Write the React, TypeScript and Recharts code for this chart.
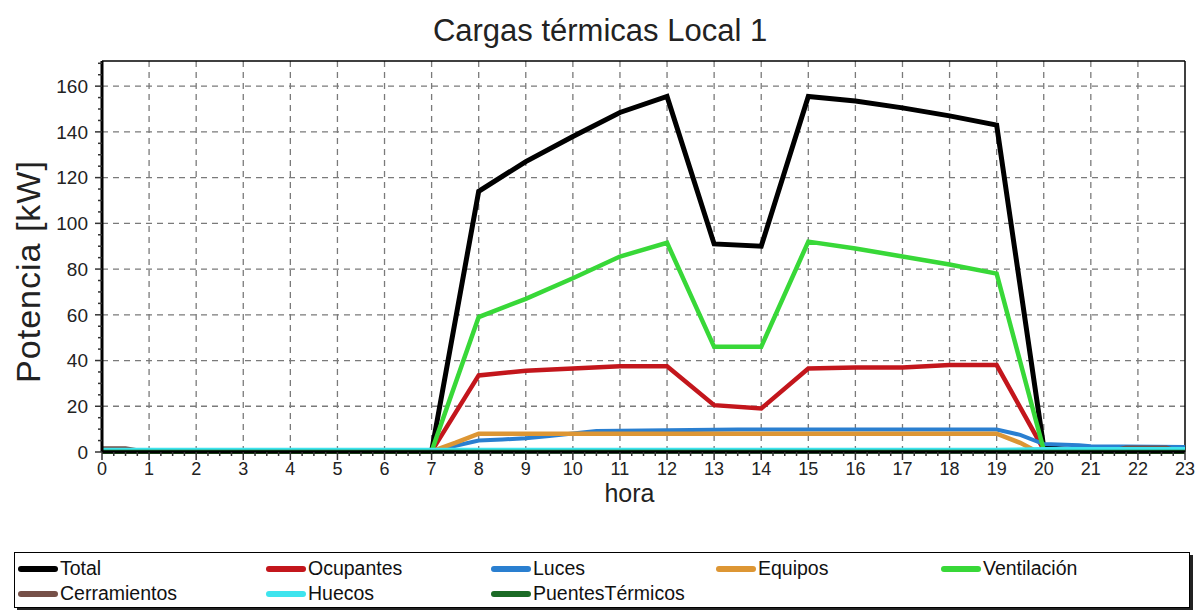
import React from 'react';
import { LineChart, Line, XAxis, YAxis, Legend, ReferenceLine } from 'recharts';

const hours = [0, 1, 2, 3, 4, 5, 6, 7, 8, 9, 10, 11, 12, 13, 14, 15, 16, 17, 18, 19, 20, 21, 22, 23];

const totalValues = [0.3, 0.3, 0.3, 0.3, 0.3, 0.3, 0.3, 0.3, 114, 127, 138, 148.5, 155.5, 91, 90, 155.5, 153.5, 150.5, 147, 143, 2, 0.3, 0.3, 0.3];
const ocupantesValues = [0.3, 0.3, 0.3, 0.3, 0.3, 0.3, 0.3, 0.3, 33.5, 35.5, 36.5, 37.5, 37.5, 20.5, 19, 36.5, 37, 37, 38, 38, 1, 0.3, 0.3, 0.3];
const ventilacionValues = [0.3, 0.3, 0.3, 0.3, 0.3, 0.3, 0.3, 0.3, 59, 67, 76, 85.5, 91.5, 46, 46, 92, 89, 85.5, 82, 78, 1, 0.3, 0.3, 0.3];

const lucesHours = [0, 7, 8, 8.5, 9, 9.5, 10.5, 13.5, 19, 19.5, 20, 20.75, 21, 23];
const lucesValues = [0.3, 0.3, 5, 5.5, 6, 7, 9.2, 9.8, 9.8, 7.5, 3.5, 3, 2.5, 2.2];

const equiposHours = [0, 7, 7.5, 8, 19, 19.5, 19.8, 20, 23];
const equiposValues = [0.3, 0.3, 4, 8, 8, 4, 0.8, 0.3, 0.3];

const cerramientosHours = [0, 0.5, 0.75, 21.5, 21.75, 22.6, 22.8, 23];
const cerramientosValues = [1.6, 1.6, 0.8, 0.8, 2, 2, 0.8, 0.8];

const huecosValues = [1, 1, 1, 1, 1, 1, 1, 1, 1, 1, 1, 1, 1, 1, 1, 1, 1, 1, 1, 1, 1.3, 1.3, 1.3, 1.3];
const puentesValues = [0.1, 0.1, 0.1, 0.1, 0.1, 0.1, 0.1, 0.1, 0.1, 0.1, 0.1, 0.1, 0.1, 0.1, 0.1, 0.1, 0.1, 0.1, 0.1, 0.1, 0.1, 0.1, 0.1, 0.1];

const yGridTicks = [20, 40, 60, 80, 100, 120, 140, 160];
const yMinorTicks = Array.from({ length: 35 }, (_, i) => i * 5);
const xMinorTicks = Array.from({ length: 93 }, (_, i) => i / 4);
const Y_MAX = 171;

const FONT = '"Liberation Sans", Arial, sans-serif';

type Pt = { x: number; y: number };
const toPoints = (xs: number[], ys: number[]): Pt[] => xs.map((x, i) => ({ x, y: ys[i] }));

const series = [
  { name: 'Total', color: '#000000', width: 5, data: toPoints(hours, totalValues) },
  { name: 'Ocupantes', color: '#c3161c', width: 4.5, data: toPoints(hours, ocupantesValues) },
  { name: 'Luces', color: '#2a7fd0', width: 4, data: toPoints(lucesHours, lucesValues) },
  { name: 'Equipos', color: '#dd9634', width: 4.5, data: toPoints(equiposHours, equiposValues) },
  { name: 'Ventilación', color: '#38d838', width: 4.5, data: toPoints(hours, ventilacionValues) },
  { name: 'Cerramientos', color: '#765048', width: 4, data: toPoints(cerramientosHours, cerramientosValues) },
  { name: 'Huecos', color: '#3ee4ee', width: 4, data: toPoints(hours, huecosValues) },
  { name: 'PuentesTérmicos', color: '#1b6b26', width: 4, data: toPoints(hours, puentesValues) },
];

const XTick = (props: any) => {
  const { x, y, payload } = props;
  const v = payload.value as number;
  const major = Number.isInteger(v);
  return (
    <g>
      <line x1={x} x2={x} y1={y} y2={y + (major ? 8 : 4)} stroke="#333" strokeWidth={1.5} />
      {major && (
        <text x={x} y={y + 17} dy="0.355em" textAnchor="middle" fontSize={18} fill="#222" fontFamily={FONT}>
          {v}
        </text>
      )}
    </g>
  );
};

const YTick = (props: any) => {
  const { x, y, payload } = props;
  const v = payload.value as number;
  const major = v % 20 === 0 && v <= 160;
  return (
    <g>
      <line x1={x - (major ? 7 : 4)} x2={x} y1={y} y2={y} stroke="#333" strokeWidth={1.5} />
      {major && (
        <text x={x - 14} y={y} dy="0.355em" textAnchor="end" fontSize={19} fill="#222" fontFamily={FONT}>
          {v}
        </text>
      )}
    </g>
  );
};

const LegendBox = () => (
  <div
    style={{
      border: '1px solid #000',
      boxShadow: '3px 3px 0 #222',
      background: '#fff',
      height: 56,
      boxSizing: 'border-box',
      padding: '3px 0 0 3px',
      display: 'grid',
      gridTemplateColumns: '248px 225px 225px 225px 225px',
      gridAutoRows: 25,
      fontFamily: FONT,
      fontSize: 19.5,
      color: '#111',
    }}
  >
    {series.map((s) => (
      <div key={s.name} style={{ display: 'flex', alignItems: 'center' }}>
        <span style={{ display: 'inline-block', width: 40, height: 6, borderRadius: 3, background: s.color, marginRight: 2 }} />
        <span>{s.name}</span>
      </div>
    ))}
  </div>
);

export default function App() {
  return (
    <div style={{ width: 1201, height: 610, background: '#fff' }}>
      <style>{'body{margin:0}'}</style>
      <LineChart width={1201} height={610} margin={{ top: 61, right: 16, left: 12, bottom: 2 }}>
        <text x={600} y={30} textAnchor="middle" dominantBaseline="central" fontSize={31} fill="#222" fontFamily={FONT}>
          Cargas térmicas Local 1
        </text>
        <XAxis
          type="number"
          dataKey="x"
          domain={[0, 23]}
          ticks={xMinorTicks}
          interval={0}
          tickSize={0}
          tickMargin={0}
          tick={<XTick />}
          height={100}
          axisLine={{ stroke: '#000', strokeWidth: 3 }}
          label={{ value: 'hora', position: 'insideTop', offset: 32, dx: -14, fontSize: 25, fill: '#222', fontFamily: FONT }}
        />
        <YAxis
          type="number"
          domain={[0, Y_MAX]}
          ticks={yMinorTicks}
          interval={0}
          tickSize={0}
          tickMargin={0}
          tick={<YTick />}
          width={90}
          axisLine={{ stroke: '#000', strokeWidth: 3 }}
          label={(p: any) => {
            const vb = p.viewBox || { x: 12, y: 61, width: 90, height: 389 };
            const cx = vb.x + 16;
            const cy = vb.y + vb.height / 2 + 15;
            return (
              <text x={cx} y={cy} transform={`rotate(-90 ${cx} ${cy})`} textAnchor="middle" dominantBaseline="central" fontSize={34} letterSpacing={1} fill="#222" fontFamily={FONT}>
                Potencia [kW]
              </text>
            );
          }}
        />
        {hours.slice(1, 23).map((h) => (
          <ReferenceLine key={'gx' + h} x={h} stroke="#7a7a7a" strokeWidth={1.3} strokeDasharray="6 5" />
        ))}
        {yGridTicks.map((v) => (
          <ReferenceLine key={'gy' + v} y={v} stroke="#7a7a7a" strokeWidth={1.3} strokeDasharray="6 5" />
        ))}
        <ReferenceLine y={Y_MAX} stroke="#000" strokeWidth={1.5} />
        <ReferenceLine x={23} stroke="#000" strokeWidth={1.5} />
        <Legend verticalAlign="bottom" wrapperStyle={{ left: 14, bottom: 2, width: 1176 }} content={<LegendBox />} />
        {series.map((s) => (
          <Line
            key={s.name}
            data={s.data}
            dataKey="y"
            name={s.name}
            type="linear"
            stroke={s.color}
            strokeWidth={s.width}
            dot={false}
            activeDot={false}
            isAnimationActive={false}
          />
        ))}
      </LineChart>
    </div>
  );
}
